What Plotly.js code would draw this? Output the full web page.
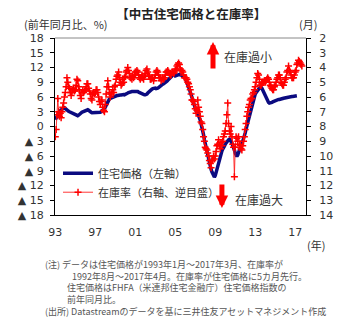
<!DOCTYPE html>
<html>
<head>
<meta charset="utf-8">
<script src="https://cdn.plot.ly/plotly-3.0.1.min.js"></script>
<style>html,body{margin:0;padding:0;background:#fff;}#chart{width:351px;height:327px;}</style>
</head>
<body>
<div id="chart"></div>
<script>
// Monthly data, starting January 1993
const startYear = 1993;
// 住宅価格 (FHFA HPI, 前年同月比 %), 1993/1 - 2017/3
const housePrice = [
  1.4, 1.8, 2.2, 2.5, 2.8, 3.0, 3.2, 3.4, 3.6, 3.7, 3.8, 3.8,
  3.7, 3.6, 3.5, 3.3, 3.1, 3.0, 2.9, 2.8, 2.7, 2.6, 2.5, 2.4,
  2.3, 2.2, 2.2, 2.2, 2.3, 2.5, 2.7, 2.8, 2.9, 3.0, 3.1, 3.2,
  3.3, 3.4, 3.4, 3.4, 3.3, 3.1, 3.0, 2.9, 2.8, 2.8, 2.8, 2.8,
  2.8, 2.8, 2.85, 2.85, 2.8, 2.8, 2.9, 3.0, 3.1, 3.3, 3.5, 3.75,
  3.9, 4.3, 4.7, 5.1, 5.4, 5.6, 5.7, 5.8, 5.9, 6.0, 6.1, 6.2,
  6.2, 6.3, 6.3, 6.3, 6.4, 6.4, 6.4, 6.4, 6.5, 6.5, 6.5, 6.45,
  6.5, 6.6, 6.7, 6.8, 6.9, 7.0, 7.0, 7.1, 7.1, 7.1, 7.1, 7.1,
  7.1, 7.2, 7.2, 7.1, 7.0, 6.9, 6.8, 6.7, 6.6, 6.5, 6.5, 6.45,
  6.45, 6.5, 6.6, 6.8, 7.0, 7.2, 7.4, 7.5, 7.6, 7.7, 7.8, 7.8,
  7.8, 7.7, 7.7, 7.8, 7.9, 8.0, 8.2, 8.4, 8.5, 8.6, 8.7, 8.8,
  8.8, 9.0, 9.2, 9.4, 9.6, 9.8, 10.0, 10.2, 10.3, 10.4, 10.5, 10.5,
  10.3, 10.4, 10.5, 10.5, 10.6, 10.6, 10.5, 10.5, 10.4, 10.3, 10.2, 10.0,
  9.8, 9.5, 9.1, 8.7, 8.2, 7.6, 7.0, 6.4, 5.8, 5.2, 4.6, 4.0,
  3.6, 3.2, 2.9, 2.6, 2.2, 1.8, 1.3, 0.7, 0.0, -0.8, -1.7, -2.7,
  -3.5, -4.3, -5.2, -6.1, -6.8, -7.5, -8.1, -8.7, -9.2, -9.7, -10.1, -10.3,
  -10.0, -9.3, -8.6, -8.1, -7.4, -6.6, -6.1, -5.5, -5.0, -4.6, -4.4, -4.0,
  -3.6, -3.3, -3.1, -2.9, -2.7, -2.6, -2.7, -3.0, -3.4, -3.8, -4.1, -4.8,
  -5.4, -5.9, -6.1, -5.8, -5.2, -4.7, -4.3, -4.1, -3.6, -3.0, -2.4, -2.0,
  -1.3, -0.5, 0.2, 0.7, 1.5, 2.3, 3.0, 3.6, 4.1, 4.8, 5.5, 6.0,
  6.6, 6.9, 7.2, 7.4, 7.6, 7.8, 7.9, 8.0, 7.8, 7.4, 7.0, 6.6,
  6.2, 5.8, 5.4, 5.1, 4.9, 4.75, 4.75, 4.8, 4.9, 5.0, 5.1, 5.2,
  5.3, 5.35, 5.4, 5.4, 5.5, 5.5, 5.6, 5.6, 5.7, 5.7, 5.75, 5.8,
  5.8, 5.8, 5.85, 5.9, 5.9, 6.0, 6.0, 6.05, 6.1, 6.1, 6.1, 6.2,
  6.2, 6.25, 6.25
];
// 在庫率 (months of supply), 1992/8 - 2017/4, plotted 5 months ahead (1993/1 - 2017/9)
const inventoryMonths = [
  8.7, 8.2, 7.2, 6.1, 7.0, 7.3, 7.1, 7.4, 7.0, 6.7, 6.4, 6.0,
  5.7, 5.3, 4.7, 5.0, 5.3, 5.4, 5.7, 5.9, 5.7, 5.5, 5.4, 5.6,
  5.5, 5.2, 4.8, 4.9, 5.3, 5.6, 5.9, 6.1, 5.7, 5.5, 5.7, 5.6,
  5.5, 5.3, 5.1, 5.1, 5.4, 5.6, 5.8, 6.1, 6.2, 5.8, 5.7, 5.8,
  5.7, 5.5, 5.5, 5.7, 6.0, 6.3, 6.5, 6.3, 6.2, 6.7, 6.9, 7.0,
  6.5, 5.8, 5.3, 4.9, 5.3, 5.7, 6.0, 5.8, 5.7, 5.5, 5.7, 5.3,
  5.2, 4.8, 4.6, 4.5, 4.3, 4.7, 5.0, 5.2, 5.1, 4.8, 5.0, 4.7,
  4.6, 4.3, 4.2, 4.0, 4.2, 4.4, 4.7, 4.7, 4.8, 4.6, 4.7, 4.5,
  4.3, 4.3, 4.2, 4.3, 4.5, 4.7, 4.8, 4.7, 4.5, 4.7, 4.8, 4.6,
  4.4, 4.2, 4.1, 4.3, 4.5, 4.6, 4.8, 4.8, 4.7, 4.7, 4.9, 4.7,
  4.5, 4.3, 4.2, 4.3, 4.5, 4.7, 4.7, 4.9, 4.8, 4.7, 4.8, 4.7,
  4.5, 4.3, 4.3, 4.2, 4.3, 4.4, 4.5, 4.5, 4.3, 4.3, 4.4, 4.3,
  4.2, 4.1, 3.9, 3.8, 3.7, 3.8, 4.1, 4.2, 4.2, 4.3, 4.5, 4.7,
  4.7, 4.7, 4.8, 5.0, 5.1, 5.3, 5.5, 5.8, 6.2, 6.2, 6.3, 6.5,
  6.8, 7.1, 6.9, 6.2, 6.7, 7.0, 7.3, 7.7, 7.8, 8.2, 8.7, 9.0,
  9.4, 9.5, 9.6, 9.8, 10.0, 10.3, 10.5, 10.8, 10.3, 10.3, 10.0, 10.2,
  10.0, 9.7, 9.3, 9.2, 8.9, 9.3, 9.5, 9.1, 9.3, 9.0, 8.7, 8.5,
  8.3, 7.8, 7.2, 6.4, 7.8, 8.3, 8.5, 8.0, 8.7, 9.2, 9.4, 11.4,
  9.4, 8.7, 8.8, 9.0, 8.7, 9.2, 9.3, 9.5, 9.6, 9.3, 9.0, 8.7,
  8.2, 7.8, 7.3, 7.0, 6.7, 6.5, 6.2, 6.1, 6.1, 5.8, 5.7, 5.5,
  5.3, 5.0, 4.7, 4.4, 4.5, 4.8, 5.2, 5.2, 5.1, 5.0, 5.0, 4.9,
  5.0, 4.9, 4.8, 4.7, 4.8, 5.0, 5.2, 5.3, 5.4, 5.5, 5.5, 5.3,
  5.2, 5.0, 4.8, 4.7, 4.5, 4.5, 4.7, 5.0, 5.1, 5.2, 5.2, 5.0,
  4.8, 4.7, 4.3, 4.2, 3.9, 4.2, 4.3, 4.5, 4.7, 4.7, 4.7, 4.5,
  4.3, 4.2, 3.8, 3.7, 3.5, 3.6, 3.7, 3.8, 3.9
];
const yearTickVals = [1993, 1997, 2001, 2005, 2009, 2013, 2017];
const yearTickText = ['93', '97', '01', '05', '09', '13', '17'];
const leftTickVals = [18, 15, 12, 9, 6, 3, 0, -3, -6, -9, -12, -15, -18];
const leftTickText = ['18', '15', '12', '9', '6', '3', '0', '▲ 3', '▲ 6', '▲ 9', '▲ 12', '▲ 15', '▲ 18'];
const rightTickVals = [2, 3, 4, 5, 6, 7, 8, 9, 10, 11, 12, 13, 14];
const seriesNames = ['住宅価格（左軸）', '在庫率（右軸、逆目盛）'];
const noteLines = [
  '(注)\u00a0データは住宅価格が1993年1月～2017年3月、在庫率が',
  '\u3000\u3000\u30001992年8月～2017年4月。在庫率が住宅価格に5カ月先行。',
  '\u3000\u3000\u00a0\u00a0住宅価格はFHFA（米連邦住宅金融庁）住宅価格指数の',
  '\u3000\u3000\u00a0\u00a0前年同月比。',
  '(出所) Datastreamのデータを基に三井住友アセットマネジメント作成'
];

const monthX = (n) => Array.from({length: n}, (_, i) => startYear + i / 12);

const JP = '"Noto Sans CJK JP", sans-serif';
const NUM = '"DejaVu Sans", "Noto Sans CJK JP", sans-serif';
const TXT = '#333333';

const traces = [
  {
    x: monthX(housePrice.length), y: housePrice, name: seriesNames[0],
    type: 'scatter', mode: 'lines', xaxis: 'x', yaxis: 'y',
    line: {color: '#0b0b80', width: 3.5}
  },
  {
    x: monthX(inventoryMonths.length), y: inventoryMonths, name: seriesNames[1],
    type: 'scatter', mode: 'lines+markers', xaxis: 'x', yaxis: 'y2',
    line: {color: 'rgba(255,20,20,0.85)', width: 1},
    marker: {symbol: 'cross-thin', size: 5, line: {color: '#ff0000', width: 1.5}, color: '#ff0000'}
  }
];

const xr = [1992.97, 2018.08];
const layout = {
  width: 351, height: 327,
  margin: {l: 55, r: 45, t: 38, b: 112, pad: 0},
  paper_bgcolor: '#ffffff', plot_bgcolor: '#ffffff',
  font: {family: JP, size: 11, color: TXT},
  title: {text: '【中古住宅価格と在庫率】', x: 0.545, xanchor: 'center', xref: 'container',
          y: 1 - 15 / 327, yanchor: 'middle', yref: 'container',
          font: {family: JP, size: 12.5, color: '#222', weight: 'bold'}},
  showlegend: true,
  legend: {x: 0.012, y: 0.318, xanchor: 'left', yanchor: 'top', bgcolor: 'rgba(0,0,0,0)',
           font: {family: JP, size: 11, color: TXT}, itemwidth: 30, tracegroupgap: 0},
  xaxis: {range: xr, tickvals: yearTickVals, ticktext: yearTickText, ticks: '',
          showline: true, linecolor: '#000', linewidth: 1, showgrid: false, zeroline: false,
          tickfont: {family: NUM, size: 11, color: TXT}, ticklabelstandoff: 7, fixedrange: true},
  xaxis2: {range: xr, overlaying: 'x', anchor: 'free', position: 0.5, side: 'bottom',
           tickmode: 'linear', tick0: 1993, dtick: 1, ticks: 'inside', ticklen: 4,
           tickcolor: '#000', tickwidth: 1, showticklabels: false,
           showline: true, linecolor: '#000', linewidth: 1, showgrid: false, zeroline: false},
  yaxis: {range: [-18, 18], tickvals: leftTickVals, ticktext: leftTickText,
          ticks: 'outside', ticklen: 4, tickcolor: '#000', showline: true, linecolor: '#000',
          linewidth: 1, showgrid: false, zeroline: false,
          tickfont: {family: NUM, size: 11, color: TXT}, ticklabelstandoff: 4},
  yaxis2: {range: [14, 2], tickvals: rightTickVals, overlaying: 'y', side: 'right', anchor: 'x',
           ticks: 'outside', ticklen: 4, tickcolor: '#000', showline: true, linecolor: '#000',
           linewidth: 1, showgrid: false, zeroline: false,
           tickfont: {family: NUM, size: 11, color: TXT}, ticklabelstandoff: 6},
  shapes: [
    {type: 'line', xref: 'paper', yref: 'paper', x0: 0, x1: 1, y0: 1, y1: 1,
     line: {color: '#888', width: 1}}
  ],
  annotations: [
    {text: '(前年同月比、%)', xref: 'paper', yref: 'paper', x: -0.131, y: 1.079,
     xanchor: 'left', yanchor: 'middle', showarrow: false, font: {family: JP, size: 11, color: TXT}},
    {text: '(月)', xref: 'paper', yref: 'paper', x: 1.008, y: 1.079,
     xanchor: 'center', yanchor: 'middle', showarrow: false, font: {family: JP, size: 11, color: TXT}},
    {text: '(年)', xref: 'paper', yref: 'paper', x: 1.04, y: -0.169,
     xanchor: 'center', yanchor: 'middle', showarrow: false, font: {family: JP, size: 11, color: TXT}},
    // arrows
    {text: '', xref: 'paper', yref: 'paper', x: 0.6295, y: 0.977, ax: 0, ay: 28,
     showarrow: true, arrowcolor: '#ff0000', arrowwidth: 5, arrowhead: 2, arrowsize: 0.5},
    {text: '在庫過小', xref: 'paper', yref: 'paper', x: 0.665, y: 0.893,
     xanchor: 'left', yanchor: 'middle', showarrow: false, font: {family: JP, size: 12, color: TXT}},
    {text: '', xref: 'paper', yref: 'paper', x: 0.665, y: 0.0395, ax: 0, ay: -25,
     showarrow: true, arrowcolor: '#ff0000', arrowwidth: 5, arrowhead: 2, arrowsize: 0.5},
    {text: '在庫過大', xref: 'paper', yref: 'paper', x: 0.709, y: 0.085,
     xanchor: 'left', yanchor: 'middle', showarrow: false, font: {family: JP, size: 12, color: TXT}},
    // notes (one block)
    {text: noteLines.join('<br>'), xref: 'paper', yref: 'paper', x: -0.0478, y: (215 - 288) / 177,
     xanchor: 'left', yanchor: 'middle', align: 'left', showarrow: false,
     font: {family: JP, size: 9, color: '#555'}}
  ]
};

Plotly.newPlot('chart', traces, layout, {staticPlot: true, displayModeBar: false});
</script>
</body>
</html>
